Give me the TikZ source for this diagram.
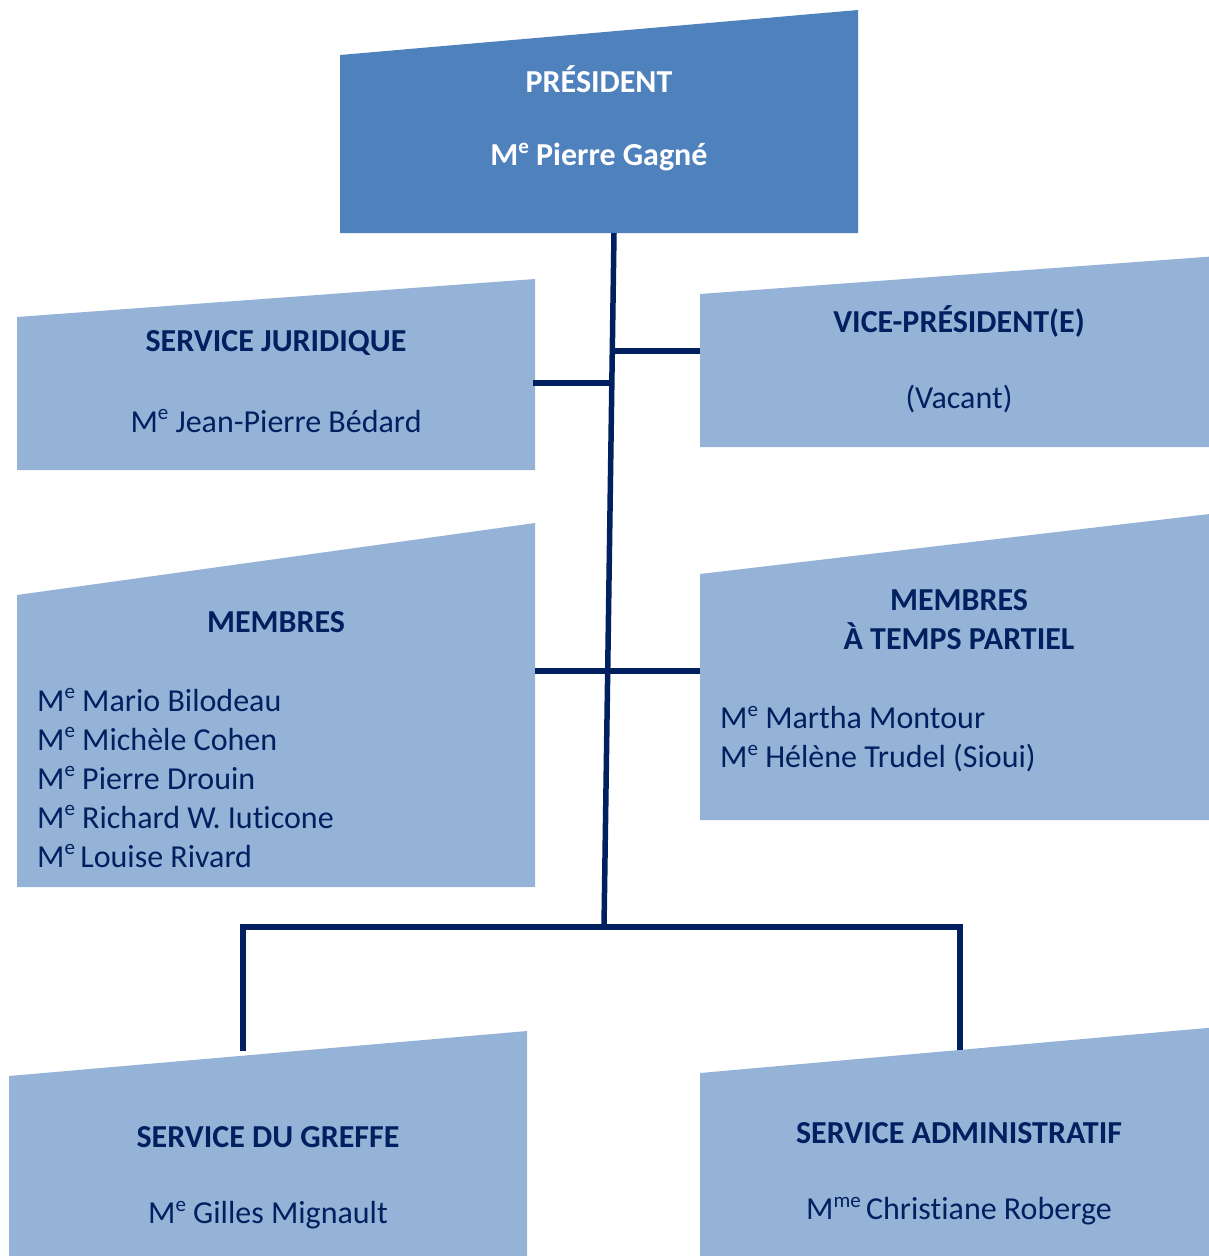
\documentclass[tikz,border=0pt]{standalone}
\usepackage{fontspec}
\setmainfont[Ligatures=NoCommon]{Carlito}
\usepackage{tikz}
\definecolor{navy}{RGB}{0,32,96}
\definecolor{panelblue}{RGB}{149,179,215}
\definecolor{headblue}{RGB}{79,129,189}
\newcommand{\supraise}[1]{\raisebox{12.5pt}{\fontsize{21}{21}\selectfont #1}}
\newcommand{\Me}{M\supraise{e}}
\newcommand{\Mme}{M\supraise{me}}

\begin{document}
\begin{tikzpicture}
  [x=1pt, y=-1pt, node distance=78pt,
  panel/.style={fill=panelblue},
  headpanel/.style={fill=headblue},
  title/.style={font=\fontsize{32}{39}\selectfont\bfseries, text=navy},
  person/.style={font=\fontsize{32}{39}\selectfont, text=navy},
  line/.style={draw=navy, line width=5.5pt}]
  \useasboundingbox (0,0) rectangle (1209,1256);
  \clip (0,0) rectangle (1209,1256);

  % panels
  \fill [headpanel] (340,55) -- (858,10) -- (858,233) -- (340,233) -- cycle;
  \fill [panel] (17,317) -- (535,279) -- (535,470) -- (17,470) -- cycle;
  \fill [panel] (700,294) -- (1218,256) -- (1218,447) -- (700,447) -- cycle;
  \fill [panel] (17,595) -- (535,523) -- (535,887) -- (17,887) -- cycle;
  \fill [panel] (700,574) -- (1218,513) -- (1218,820) -- (700,820) -- cycle;
  \fill [panel] (9,1076) -- (527,1031) -- (527,1270) -- (9,1270) -- cycle;
  \fill [panel] (700,1073) -- (1218,1027) -- (1218,1270) -- (700,1270) -- cycle;

  % nodes
  \node [title, text=white] (pres) at (599,79) {PRÉSIDENT};
  \node [title, text=white, below of=pres] (presname) {\Me\ Pierre Gagné};
  \node [title] (jur) at (276,343) {SERVICE JURIDIQUE};
  \node [person, below of=jur] (jurname) {\Me\ Jean-Pierre Bédard};
  \node [title] (vp) at (959,321) {VICE-PRÉSIDENT(E)};
  \node [person, below of=vp] (vpname) {(Vacant)};
  \node [title] (mem) at (276,622) {MEMBRES};
  \node [person, align=left, anchor=west, inner sep=0pt] (memnames) at (37,778)
    {\Me\ Mario Bilodeau\\
     \Me\ Michèle Cohen\\
     \Me\ Pierre Drouin\\
     \Me\ Richard W. Iuticone\\
     \Me\,Louise Rivard};
  \node [title, align=center] (part) at (959,620) {MEMBRES\\À TEMPS PARTIEL};
  \node [person, align=left, anchor=west, inner sep=0pt] (partnames) at (720,739)
    {\Me\ Martha Montour\\
     \Me\ Hélène Trudel (Sioui)};
  \node [title] (greffe) at (268,1137) {SERVICE DU GREFFE};
  \node [person, below of=greffe] (greffename) {\Me\ Gilles Mignault};
  \node [title] (admin) at (959,1133) {SERVICE ADMINISTRATIF};
  \node [person, below of=admin] (adminname) {\Mme\,Christiane Roberge};

  % ports
  \coordinate (presport) at (614,233);
  \coordinate (fork) at (604,927);
  \coordinate (jurport) at (533,383);
  \coordinate (vpport) at (700,351);
  \coordinate (memport) at (535,671);
  \coordinate (partport) at (700,671);
  \coordinate (greffeport) at (243,1051);
  \coordinate (adminport) at (960,1050);

  % edges
  \path [line] (presport) -- (fork);
  \path [line] (jurport) -- (jurport -| presport);
  \path [line] (vpport -| presport) -- (vpport);
  \path [line] (memport) -- (partport);
  \path [line] (greffeport) -- (greffeport |- fork) -- (adminport |- fork) -- (adminport);
\end{tikzpicture}
\end{document}
